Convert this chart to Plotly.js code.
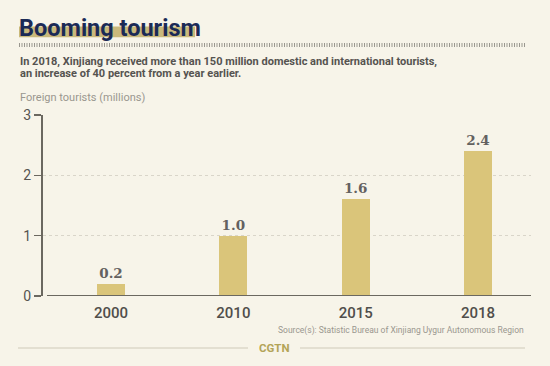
<!DOCTYPE html>
<html><head><meta charset="utf-8">
<script src="https://cdn.plot.ly/plotly-3.0.1.min.js"></script>
<style>html,body{margin:0;padding:0;background:#f7f4e9;}</style>
</head><body>
<div id="chart" style="width:550px;height:366px;"></div>
<script>
var years = ["2000", "2010", "2015", "2018"];
var foreignTourists = [0.2, 1.0, 1.6, 2.4];
var yTicks = [0, 1, 2, 3];

var W = 550, H = 366, L = 43, R = 531, T = 115, B = 296;
function px(x){ return (x - L) / (R - L); }
function py(y){ return (B - y) / (B - T); }

var sans = "Roboto, sans-serif";

var trace = {
  type: "bar",
  x: years,
  y: foreignTourists,
  width: 0.23,
  marker: {color: "#dac57a", line: {width: 0}},
  text: foreignTourists.map(function(v){ return v.toFixed(1); }),
  textposition: "outside",
  cliponaxis: false,
  textfont: {family: "DejaVu Serif, serif", size: 13.5, color: "#636160", weight: "bold"},
  hoverinfo: "none"
};

var layout = {
  width: W, height: H,
  margin: {l: L, r: W - R, t: T, b: H - B, pad: 0},
  paper_bgcolor: "#f7f4e9",
  plot_bgcolor: "rgba(0,0,0,0)",
  showlegend: false,
  bargap: 0,
  xaxis: {
    type: "category",
    range: [-0.556, 3.433],
    showline: false, showgrid: false, zeroline: false,
    ticks: "",
    tickfont: {family: sans, size: 15, color: "#504e4b", weight: 500},
    ticklabelstandoff: 6
  },
  yaxis: {
    range: [0, 3],
    tickvals: yTicks,
    ticktext: yTicks.map(String),
    showline: true, linecolor: "#6b6860", linewidth: 2,
    ticks: "outside", ticklen: 7, tickwidth: 1.5, tickcolor: "#6b6860",
    showgrid: true, gridcolor: "#d9d5c9", griddash: "dot", gridwidth: 1,
    zeroline: false,
    tickfont: {family: sans, size: 14, color: "#555350"}
  },
  shapes: [
    {type: "line", xref: "paper", yref: "y", x0: px(47), x1: 1, y0: 0, y1: 0,
     line: {color: "#6b6860", width: 2}},
    {type: "rect", xref: "paper", yref: "paper", x0: px(19), x1: px(195), y0: py(37.3), y1: py(26.5),
     fillcolor: "#c9b97c", line: {width: 0}, layer: "below"},
    {type: "line", xref: "paper", yref: "paper", x0: px(19), x1: px(525), y0: py(45), y1: py(45),
     line: {color: "#9a978f", width: 4, dash: "1px,1.5px"}},
    {type: "line", xref: "paper", yref: "paper", x0: px(18), x1: px(248), y0: py(348), y1: py(348),
     line: {color: "#dcd8c8", width: 1.5}},
    {type: "line", xref: "paper", yref: "paper", x0: px(300), x1: px(525), y0: py(348), y1: py(348),
     line: {color: "#dcd8c8", width: 1.5}}
  ],
  annotations: [
    {text: "<b>Booming tourism</b>", xref: "paper", yref: "paper", x: px(17), y: py(28.5),
     xanchor: "left", yanchor: "middle", showarrow: false,
     font: {family: sans, size: 23.5, color: "#1b2a56"}},
    {text: "<b>In 2018, Xinjiang received more than 150 million domestic and international tourists,</b>",
     xref: "paper", yref: "paper", x: px(18), y: py(61),
     xanchor: "left", yanchor: "middle", showarrow: false,
     font: {family: sans, size: 11, color: "#555350"}},
    {text: "<b>an increase of 40 percent from a year earlier.</b>",
     xref: "paper", yref: "paper", x: px(18), y: py(73.5),
     xanchor: "left", yanchor: "middle", showarrow: false,
     font: {family: sans, size: 11, color: "#555350"}},
    {text: "Foreign tourists (millions)", xref: "paper", yref: "paper", x: px(18), y: py(97),
     xanchor: "left", yanchor: "middle", showarrow: false,
     font: {family: sans, size: 11, color: "#9a978f"}},
    {text: "Source(s): Statistic Bureau of Xinjiang Uygur Autonomous Region",
     xref: "paper", yref: "paper", x: px(526), y: py(330),
     xanchor: "right", yanchor: "middle", showarrow: false,
     font: {family: sans, size: 8.5, color: "#9a978f"}},
    {text: "<b>CGTN</b>", xref: "paper", yref: "paper", x: px(274), y: py(348),
     xanchor: "center", yanchor: "middle", showarrow: false,
     font: {family: sans, size: 11.5, color: "#b3a458"}}
  ]
};

Plotly.newPlot("chart", [trace], layout, {displayModeBar: false, staticPlot: true});
</script>
</body></html>
